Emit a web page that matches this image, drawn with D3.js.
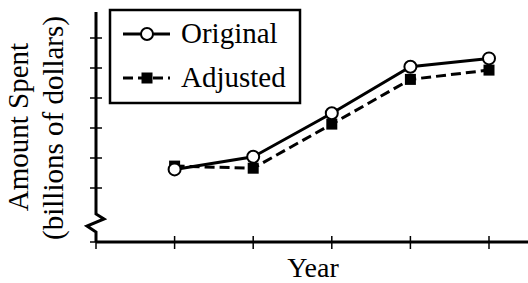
<!DOCTYPE html>
<html>
<head>
<meta charset="utf-8">
<script src="https://cdn.jsdelivr.net/npm/d3@7"></script>
</head>
<body style="margin:0">
<div class="viz"></div>
<script>
// values (y in tick units, ticks are unlabelled)
var years = [1, 2, 3, 4, 5];
var original = [1.62, 2.04, 3.49, 5.04, 5.32];
var adjusted = [1.73, 1.66, 3.13, 4.62, 4.93];
var y_ticks = [1, 2, 3, 4, 5, 6];
var series_names = ["Original", "Adjusted"];
var title_lines = ["Amount Spent", "(billions of dollars)"];

var width = 528, height = 283;
var margin = { top: 12, left: 96, bottom: 41 };
var label_font = 'Liberation Serif';

var graph = d3.select('.viz')
    .append('svg')
    .attr('width', width)
    .attr('height', height);

// y title, two rotated lines
graph.selectAll('.ytitle')
    .data(title_lines)
    .enter()
    .append('text')
    .attr('class', 'ytitle')
    .attr('transform', (d, i) => `translate(${28 + i * 35}, ${127 + i}) rotate(-90)`)
    .attr('text-anchor', 'middle')
    .style('font-family', d => `"${label_font}"`)
    .style('font-size', '29px')
    .text(d => d);

graph.selectAll('.xtitle')
    .data(['Year'])
    .enter()
    .append('text')
    .attr('class', 'xtitle')
    .attr('x', 313).attr('y', 277)
    .attr('text-anchor', 'middle')
    .style('font-family', d => `"${label_font}"`)
    .style('font-size', '28px')
    .text(d => d);

var scale_x = d3.scaleLinear()
    .domain([0, 5])
    .range([margin.left, 489]);

var scale_y = d3.scaleLinear()
    .domain([0, 6])
    .range([218, 38]);

var base_y = height - margin.bottom; // x axis sits below the break

// x axis: line and crossing ticks
graph.append('line')
    .attr('x1', margin.left).attr('x2', width)
    .attr('y1', base_y).attr('y2', base_y)
    .attr('stroke', '#000').attr('stroke-width', 3);
graph.selectAll('.xtick')
    .data([0].concat(years))
    .enter()
    .append('line')
    .attr('class', 'xtick')
    .attr('x1', d => scale_x(d)).attr('x2', d => scale_x(d))
    .attr('y1', base_y - 6).attr('y2', base_y + 7)
    .attr('stroke', '#000').attr('stroke-width', 1.5);

// y axis ticks
graph.selectAll('.ytick')
    .data(y_ticks)
    .enter()
    .append('line')
    .attr('class', 'ytick')
    .attr('x1', margin.left - 6).attr('x2', margin.left + 6)
    .attr('y1', d => scale_y(d)).attr('y2', d => scale_y(d))
    .attr('stroke', '#000').attr('stroke-width', 1.5);
graph.append('line')
    .attr('x1', margin.left - 6).attr('x2', margin.left)
    .attr('y1', base_y).attr('y2', base_y)
    .attr('stroke', '#000').attr('stroke-width', 1.5);

// y axis line with break
var x0 = margin.left;
graph.append('path')
    .attr('d', d3.line()([[x0, margin.top], [x0, 214], [x0 + 8, 219], [x0 - 9, 226], [x0, 232], [x0, base_y]]))
    .attr('fill', 'none')
    .attr('stroke', '#000')
    .attr('stroke-width', 3)
    .attr('stroke-linejoin', 'miter');

// lines
var line = d3.line()
    .x((d, i) => scale_x(years[i]))
    .y(d => scale_y(d));

graph.append('path')
    .datum(adjusted)
    .attr('d', line)
    .attr('fill', 'none')
    .attr('stroke', '#000')
    .attr('stroke-width', 3)
    .attr('stroke-dasharray', '10,5');

graph.append('path')
    .datum(original)
    .attr('d', line)
    .attr('fill', 'none')
    .attr('stroke', '#000')
    .attr('stroke-width', 3);

graph.selectAll('.sq')
    .data(adjusted)
    .enter()
    .append('rect')
    .attr('class', 'sq')
    .attr('x', (d, i) => scale_x(years[i]) - 5.5)
    .attr('y', d => scale_y(d) - 5.5)
    .attr('width', 11).attr('height', 11)
    .attr('fill', '#000');

graph.selectAll('.dot')
    .data(original)
    .enter()
    .append('circle')
    .attr('class', 'dot')
    .attr('cx', (d, i) => scale_x(years[i]))
    .attr('cy', d => scale_y(d))
    .attr('r', 6)
    .attr('fill', '#fff')
    .attr('stroke', '#000')
    .attr('stroke-width', 2);

// legend
var legend = graph.append('g');
legend.append('rect')
    .attr('x', 110).attr('y', 10)
    .attr('width', 190).attr('height', 93)
    .attr('fill', '#fff')
    .attr('stroke', '#000')
    .attr('stroke-width', 2.5);

var leg = legend.selectAll('.item')
    .data(series_names)
    .enter()
    .append('g')
    .attr('transform', (d, i) => `translate(123, ${34 + i * 44})`);

leg.append('line')
    .attr('x1', 0).attr('x2', 47)
    .attr('stroke', '#000')
    .attr('stroke-width', 3)
    .attr('stroke-dasharray', (d, i) => i ? '10,5' : null);

leg.filter((d, i) => i == 0).append('circle')
    .attr('cx', 24).attr('r', 6)
    .attr('fill', '#fff').attr('stroke', '#000').attr('stroke-width', 2);
leg.filter((d, i) => i == 1).append('rect')
    .attr('x', 18.5).attr('y', -5.5).attr('width', 11).attr('height', 11)
    .attr('fill', '#000');

leg.append('text')
    .attr('x', 58)
    .attr('y', 9)
    .style('font-family', d => `"${label_font}"`)
    .style('font-size', '29px')
    .text(d => d);
</script>
</body>
</html>
